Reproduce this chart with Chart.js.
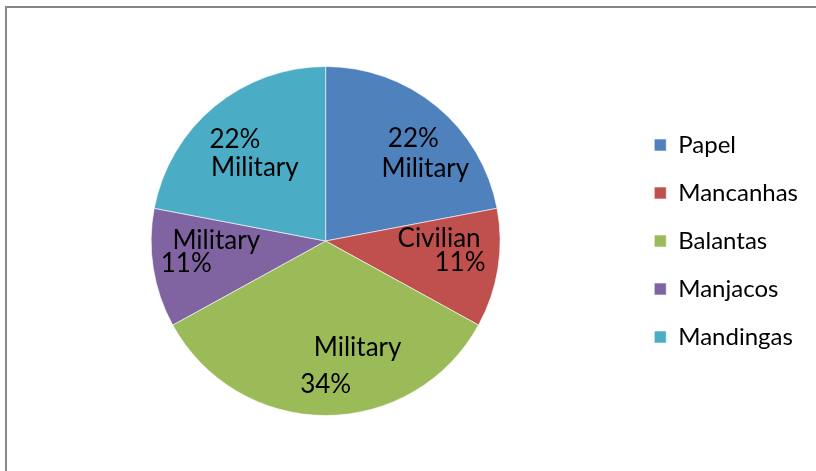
<!DOCTYPE html>
<html>
<head>
<meta charset="utf-8">
<script src="https://cdn.jsdelivr.net/npm/chart.js@4"></script>
<style>
  html, body { margin: 0; padding: 0; background: #fff; }
  #frame {
    position: absolute; left: 5px; top: 6px; width: 830px; height: 490px;
    border: 2px solid #878787; box-sizing: border-box;
  }
  #wrap { position: absolute; left: 0; top: 0; width: 816px; height: 471px; }
</style>
</head>
<body>
<div id="frame"></div>
<div id="wrap"><canvas id="chart" width="816" height="471"></canvas></div>
<script>
var groups = ["Papel", "Mancanhas", "Balantas", "Manjacos", "Mandingas"];
var shares = [22, 11, 34, 11, 22];
var roles = ["Military", "Civilian", "Military", "Military", "Military"];
var colors = ["#4F81BD", "#C0504D", "#9BBB59", "#8064A2", "#4BACC6"];

// offsets (px) of the percent line and the role line from a point at 60% of the radius
var labelLayout = [
  { pct: [21, -13], role: [33, 17] },
  { pct: [31, 14], role: [10, -10] },
  { pct: [0, 47], role: [32, 10] },
  { pct: [-36, 15], role: [-6, -8] },
  { pct: [-24, -12], role: [-4, 16] }
];

var sliceLabels = {
  id: "sliceLabels",
  afterDatasetsDraw: function (chart) {
    var ctx = chart.ctx;
    var meta = chart.getDatasetMeta(0);
    ctx.save();
    ctx.font = "26px Lato";
    ctx.fillStyle = "#000";
    ctx.textAlign = "center";
    ctx.textBaseline = "alphabetic";
    meta.data.forEach(function (arc, i) {
      var mid = (arc.startAngle + arc.endAngle) / 2;
      var r = arc.outerRadius * 0.6;
      var ax = arc.x + Math.cos(mid) * r;
      var ay = arc.y + Math.sin(mid) * r;
      var lay = labelLayout[i];
      ctx.fillText(shares[i] + "%", ax + lay.pct[0], ay + lay.pct[1]);
      ctx.fillText(roles[i], ax + lay.role[0], ay + lay.role[1]);
    });
    ctx.restore();
  }
};

var ctx = document.getElementById("chart");
var myChart = new Chart(ctx, {
  type: "pie",
  data: {
    labels: groups,
    datasets: [
      {
        data: shares,
        backgroundColor: colors,
        borderColor: "rgba(255,255,255,0.6)",
        borderWidth: 1
      }
    ]
  },
  options: {
    responsive: false,
    animation: false,
    layout: { padding: { left: 21, top: 66, bottom: 55, right: 8 } },
    plugins: {
      tooltip: { enabled: false },
      legend: {
        position: "right",
        labels: {
          boxWidth: 12,
          boxHeight: 12,
          padding: 24,
          color: "#000",
          font: { family: "Lato", size: 24 }
        }
      }
    }
  },
  plugins: [sliceLabels]
});
</script>
</body>
</html>
